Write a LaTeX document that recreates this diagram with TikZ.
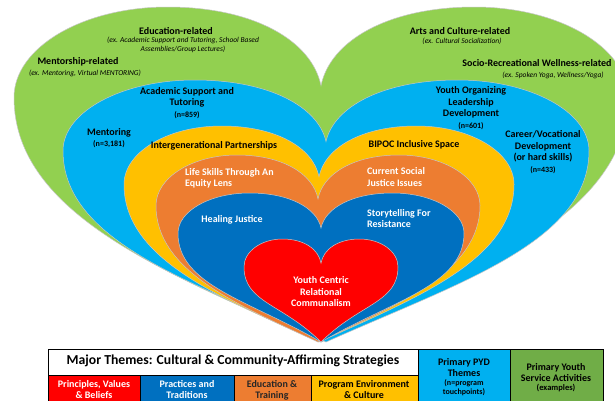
\documentclass[tikz,border=0pt]{standalone}
\usepackage{fontspec}
\setmainfont{Carlito}
\definecolor{outgreen}{HTML}{92D050}
\definecolor{skyblue}{HTML}{00B0F0}
\definecolor{gold}{HTML}{FFC000}
\definecolor{orng}{HTML}{ED7D31}
\definecolor{deepblue}{HTML}{0070C0}
\definecolor{tabgreen}{HTML}{70AD47}
% heart: colour, centre x, tip y, half width, height, tip slope
\newcommand{\heart}[6]{%
  \begin{scope}[shift={(#2,#3)}, x=#4pt, y=#5pt]
    \filldraw[fill=#1, draw=gray!45, line width=0.5pt] (0,0)
      .. controls (-0.5,{0.5*#6}) and (-1,0.38) .. (-1,0.73)
      .. controls (-1,0.879) and (-0.776,1) .. (-0.5,1)
      .. controls (-0.22,1) and (-0.03,0.9) .. (0,0.765)
      .. controls (0.03,0.9) and (0.22,1) .. (0.5,1)
      .. controls (0.776,1) and (1,0.879) .. (1,0.73)
      .. controls (1,0.38) and (0.5,{0.5*#6}) .. (0,0) -- cycle;
  \end{scope}}
\newcommand{\ncount}[1]{{\fontsize{8}{11.5}\selectfont #1}}
\begin{document}
\begin{tikzpicture}[x=1pt, y=-1pt,
    lab/.style={align=center, inner sep=0pt, font=\bfseries\fontsize{10}{11.5}\selectfont},
    small/.style={align=center, inner sep=0pt, font=\fontsize{7.5}{8.6}\selectfont\itshape},
    cell/.style={align=center, inner sep=0pt, font=\bfseries\fontsize{10}{11}\selectfont}]
    \useasboundingbox (0,0) rectangle (615,400);
    \clip (0,0) rectangle (615,400);
    \fill[white] (0,0) rectangle (615,400);
    % hearts
    \heart{outgreen}{321}{342}{307}{335}{0.41}
    \heart{skyblue}{326}{342}{263}{262}{0.45}
    \heart{gold}{319}{342}{195}{216}{0.41}
    \heart{orng}{318}{342}{162}{187}{0.40}
    \heart{deepblue}{321}{342}{143}{149}{0.56}
    \heart{red}{321}{342}{77}{103}{0.75}
    % green ring
    \node[lab] (edu) at (176,31) {Education-related};
    \node[small] (eduex) at (183,45) {(ex. Academic Support and Tutoring, School Based\\Assemblies/Group Lectures)};
    \node[lab] (ment) at (78,62) {Mentorship-related};
    \node[small] (mentex) at (85,73) {(ex. Mentoring, Virtual MENTORING)};
    \node[lab] (arts) at (460,31) {Arts and Culture-related};
    \node[small] (artsex) at (462,41) {(ex. Cultural Socialization)};
    \node[lab] (socio) at (537,63) {Socio-Recreational Wellness-related};
    \node[small] (socioex) at (553,75) {(ex. Spoken Yoga, Wellness/Yoga)};
    % light blue ring
    \node[lab] (acad) at (187,103) {Academic Support and\\Tutoring\\\ncount{(n=859)}};
    \node[lab] (mentor) at (109,138) {Mentoring\\\ncount{(n=3,181)}};
    \node[lab] (youth) at (471,108) {Youth Organizing\\Leadership\\Development\\\ncount{(n=601)}};
    \node[lab] (career) at (543,152) {Career/Vocational\\Development\\(or hard skills)\\\ncount{(n=433)}};
    % gold ring
    \node[lab] (inter) at (214,146) {Intergenerational Partnerships};
    \node[lab] (bipoc) at (414,145) {BIPOC Inclusive Space};
    % orange ring
    \node[lab, white, align=left, anchor=west] (life) at (185,178.5) {Life Skills Through An\\Equity Lens};
    \node[lab, white, align=left, anchor=west] (social) at (367,177) {Current Social\\Justice Issues};
    % dark blue ring
    \node[lab, white] (heal) at (232,220) {Healing Justice};
    \node[lab, white, align=left, anchor=west] (story) at (367,218.5) {Storytelling For\\Resistance};
    % centre
    \node[lab, white] (centric) at (321,292) {Youth Centric\\Relational\\Communalism};
    % table
    \filldraw[fill=white, draw=black] (48,349) rectangle (418,375);
    \node[font=\bfseries\fontsize{13.7}{15}\selectfont, inner sep=0pt] (major) at (233,361) {Major Themes: Cultural \& Community-Affirming Strategies};
    \filldraw[fill=red, draw=black] (48,375) rectangle (140,402);
    \filldraw[fill=deepblue, draw=black] (140,375) rectangle (234,402);
    \filldraw[fill=orng, draw=black] (234,375) rectangle (311,402);
    \filldraw[fill=gold, draw=black] (311,375) rectangle (418,402);
    \filldraw[fill=skyblue, draw=black] (418,349) rectangle (510,402);
    \filldraw[fill=tabgreen, draw=black] (510,349) rectangle (603,402);
    \node[cell, white] (princ) at (94,390) {Principles, Values\\\& Beliefs};
    \node[cell, white] (pract) at (187,390) {Practices and\\Traditions};
    \node[cell, black!85] (train) at (272,390) {Education \&\\Training};
    \node[cell] (env) at (364,390) {Program Environment\\\& Culture};
    \node[cell] (pyd) at (464,368) {Primary PYD\\Themes};
    \node[cell, font=\bfseries\fontsize{8}{9}\selectfont] (touch) at (464,388) {(n=program\\touchpoints)};
    \node[cell] (serv) at (556,372.5) {Primary Youth\\Service Activities};
    \node[cell, font=\bfseries\fontsize{8.5}{9}\selectfont] (examp) at (556,388) {(examples)};
\end{tikzpicture}
\end{document}
